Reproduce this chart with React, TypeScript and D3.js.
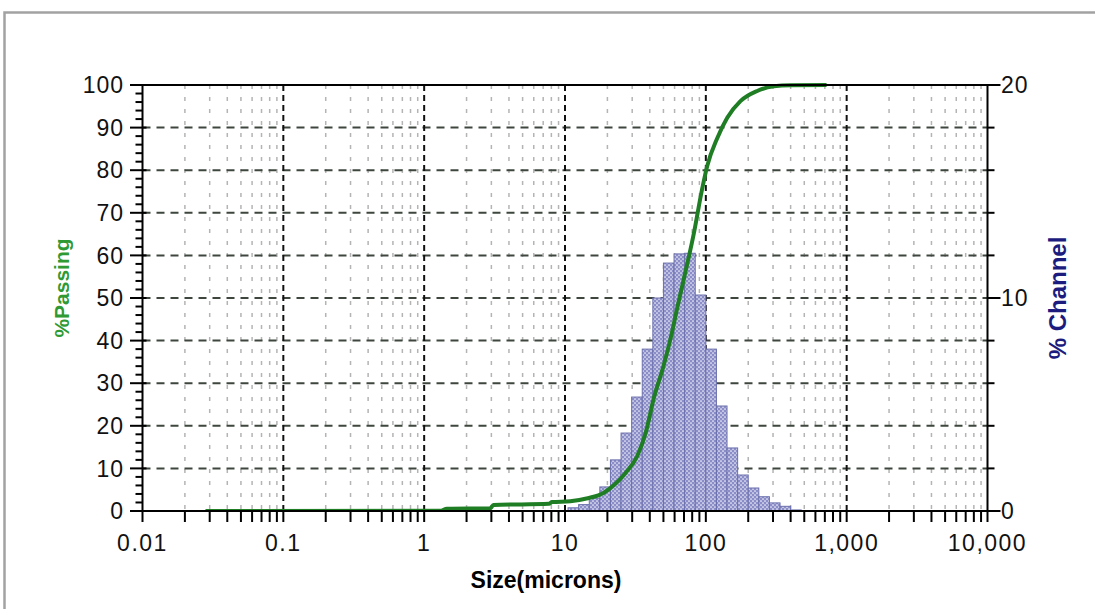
import React, { useEffect, useRef } from "react";
import * as d3 from "d3";

// tick values / labels
const xTicks = [0.01, 0.1, 1, 10, 100, 1000, 10000];
const xTickLabels = ["0.01", "0.1", "1", "10", "100", "1,000", "10,000"];
const passingTicks = [0, 10, 20, 30, 40, 50, 60, 70, 80, 90, 100];
const channelTicks = [0, 10, 20];

// histogram channels (microns) and % channel
const binEdges = [10.51, 12.5, 14.87, 17.68, 21.02, 25, 29.73, 35.36, 42.04, 50, 59.46, 70.71, 84.09, 100, 118.9, 141.4, 168.2, 200, 237.8, 282.8, 336.4, 400, 475.7];
const channelValues = [0.15, 0.3, 0.6, 1.13, 2.4, 3.66, 5.35, 7.6, 10.0, 11.64, 12.07, 12.1, 10.14, 7.6, 4.93, 2.96, 1.69, 1.08, 0.67, 0.38, 0.22, 0.05];

// cumulative % passing
const curveSizes = [0.028, 1.3, 1.45, 2.95, 3.1, 7.7, 8.1, 10.9, 14.5, 18.9, 22.5, 27, 32.6, 37.5, 42.8, 50, 56.1, 62.5, 69.8, 82, 94, 102.3, 120.5, 141.9, 176, 231.6, 304, 400, 720];
const curvePassing = [0, 0.05, 0.55, 0.65, 1.4, 1.7, 2.1, 2.3, 3.0, 4.3, 6.2, 9.0, 12.9, 18.5, 26.6, 34, 40.4, 47.5, 54.5, 65, 75.5, 81, 87.5, 92.3, 96.2, 98.6, 99.7, 99.95, 100];

const W = 1095;
const H = 609;
const left = 142.5, right = 987.5, top = 85, bottom = 511;
const font = "'Liberation Sans', Arial, sans-serif";

const App = () => {
  const ref = useRef<SVGSVGElement>(null);

  useEffect(() => {
    const svg = d3.select(ref.current);
    svg.selectAll("*").remove();

    const x = d3.scaleLog().domain([0.01, 10000]).range([left, right]);
    const yP = d3.scaleLinear().domain([0, 100]).range([bottom, top]);
    const yC = d3.scaleLinear().domain([0, 20]).range([bottom, top]);

    const defs = svg.append("defs");
    const pat = defs.append("pattern")
      .attr("id", "dots").attr("patternUnits", "userSpaceOnUse")
      .attr("width", 4).attr("height", 4);
    pat.append("rect").attr("width", 4).attr("height", 4).attr("fill", "#8a8dc8");
    pat.append("circle").attr("cx", 1).attr("cy", 1).attr("r", 0.85).attr("fill", "#f4f4fb");
    pat.append("circle").attr("cx", 3).attr("cy", 3).attr("r", 0.85).attr("fill", "#f4f4fb");
    defs.append("clipPath").attr("id", "plot")
      .append("rect").attr("x", left).attr("y", top - 5).attr("width", right - left).attr("height", bottom - top + 5);

    svg.append("rect").attr("width", W).attr("height", H).attr("fill", "#fff");
    // frame
    svg.append("rect").attr("x", 4.5).attr("y", 12.5).attr("width", W + 20).attr("height", H + 20)
      .attr("fill", "none").attr("stroke", "#a2a2a2").attr("stroke-width", 2.5);

    const grid = svg.append("g");
    const minor = x.ticks().filter((d) => !xTicks.some((t) => Math.abs(t - d) < t * 1e-6));
    grid.selectAll(".vminor").data(minor).enter().append("line")
      .attr("x1", (d) => x(d)).attr("x2", (d) => x(d))
      .attr("y1", top).attr("y2", bottom)
      .attr("stroke", "#b4b4b4").attr("stroke-width", 1.5).attr("stroke-dasharray", "4,8");

    grid.selectAll(".hmajor").data(passingTicks.slice(1, -1)).enter().append("line")
      .attr("x1", left).attr("x2", right)
      .attr("y1", (d) => yP(d)).attr("y2", (d) => yP(d))
      .attr("stroke", "#3e463e").attr("stroke-width", 2).attr("stroke-dasharray", "8,6");

    grid.selectAll(".vmajor").data(xTicks.slice(1, -1)).enter().append("line")
      .attr("x1", (d) => x(d)).attr("x2", (d) => x(d))
      .attr("y1", top).attr("y2", bottom)
      .attr("stroke", "#111").attr("stroke-width", 2).attr("stroke-dasharray", "6,4");

    // bars
    svg.append("g").selectAll("rect").data(channelValues).enter().append("rect")
      .attr("x", (d, i) => x(binEdges[i]))
      .attr("width", (d, i) => x(binEdges[i + 1]) - x(binEdges[i]))
      .attr("y", (d) => yC(d))
      .attr("height", (d) => bottom - yC(d))
      .attr("fill", "url(#dots)")
      .attr("stroke", "#6c70ac").attr("stroke-width", 1);

    // cumulative curve
    const pts = curveSizes.map((s, i) => [x(s), yP(curvePassing[i])] as [number, number]);
    const line = d3.line().curve(d3.curveMonotoneX);
    svg.append("path").attr("d", line(pts))
      .attr("clip-path", "url(#plot)")
      .attr("fill", "none").attr("stroke", "#1f7d24").attr("stroke-width", 4)
      .attr("stroke-linejoin", "round");

    // axes
    const ax = svg.append("g").attr("stroke", "#000");
    ax.append("line").attr("x1", left).attr("x2", left).attr("y1", top).attr("y2", bottom).attr("stroke-width", 2);
    ax.append("line").attr("x1", right).attr("x2", right).attr("y1", top).attr("y2", bottom).attr("stroke-width", 2);
    ax.append("line").attr("x1", 130).attr("x2", right + 6).attr("y1", top).attr("y2", top).attr("stroke-width", 2);
    ax.append("line").attr("x1", 130).attr("x2", right).attr("y1", bottom).attr("y2", bottom).attr("stroke-width", 2);

    const leftMinor = d3.range(0, 101, 2).filter((d) => d % 10 !== 0);
    ax.selectAll(".lmin").data(leftMinor).enter().append("line")
      .attr("x1", left - 7).attr("x2", left).attr("y1", (d) => yP(d)).attr("y2", (d) => yP(d)).attr("stroke-width", 2);
    ax.selectAll(".lmaj").data(passingTicks).enter().append("line")
      .attr("x1", 130).attr("x2", left + 4).attr("y1", (d) => yP(d)).attr("y2", (d) => yP(d)).attr("stroke-width", 2);

    const rightMinor = d3.range(0, 21, 2).filter((d) => d % 10 !== 0);
    ax.selectAll(".rmin").data(rightMinor).enter().append("line")
      .attr("x1", right).attr("x2", right + 7).attr("y1", (d) => yC(d)).attr("y2", (d) => yC(d)).attr("stroke-width", 2);
    ax.selectAll(".rmaj").data(channelTicks).enter().append("line")
      .attr("x1", right).attr("x2", right + 13).attr("y1", (d) => yC(d)).attr("y2", (d) => yC(d)).attr("stroke-width", 2);

    ax.selectAll(".xt").data(x.ticks()).enter().append("line")
      .attr("x1", (d) => x(d)).attr("x2", (d) => x(d))
      .attr("y1", bottom).attr("y2", bottom + 11).attr("stroke-width", 2);

    const txt = svg.append("g").attr("font-family", font).attr("fill", "#111");
    txt.selectAll(".yl").data(passingTicks).enter().append("text")
      .attr("x", 124).attr("y", (d) => yP(d)).attr("dy", "0.36em")
      .attr("text-anchor", "end").attr("font-size", 23).attr("letter-spacing", 1)
      .text((d) => d);
    txt.selectAll(".yr").data(channelTicks).enter().append("text")
      .attr("x", 1001).attr("y", (d) => yC(d)).attr("dy", "0.36em")
      .attr("font-size", 23).attr("letter-spacing", 1)
      .text((d) => d);
    txt.selectAll(".xl").data(xTicks).enter().append("text")
      .attr("x", (d) => x(d)).attr("y", 551)
      .attr("text-anchor", "middle").attr("font-size", 23).attr("letter-spacing", 1.5)
      .text((d, i) => xTickLabels[i]);

    txt.append("text").attr("x", 546).attr("y", 588).attr("text-anchor", "middle")
      .attr("font-size", 23).attr("font-weight", "bold").attr("fill", "#000")
      .text("Size(microns)");
    txt.append("text").attr("transform", `translate(69,${(top + bottom) / 2 - 10}) rotate(-90)`)
      .attr("text-anchor", "middle").attr("font-size", 21).attr("font-weight", "bold")
      .attr("fill", "#2f9a33").text("%Passing");
    txt.append("text").attr("transform", `translate(1066,${(top + bottom) / 2}) rotate(-90)`)
      .attr("text-anchor", "middle").attr("font-size", 24).attr("font-weight", "bold")
      .attr("fill", "#1c1c7e").text("% Channel");
  }, []);

  return <svg ref={ref} width={W} height={H} style={{ position: "absolute", left: 0, top: 0 }}></svg>;
};

export default App;
